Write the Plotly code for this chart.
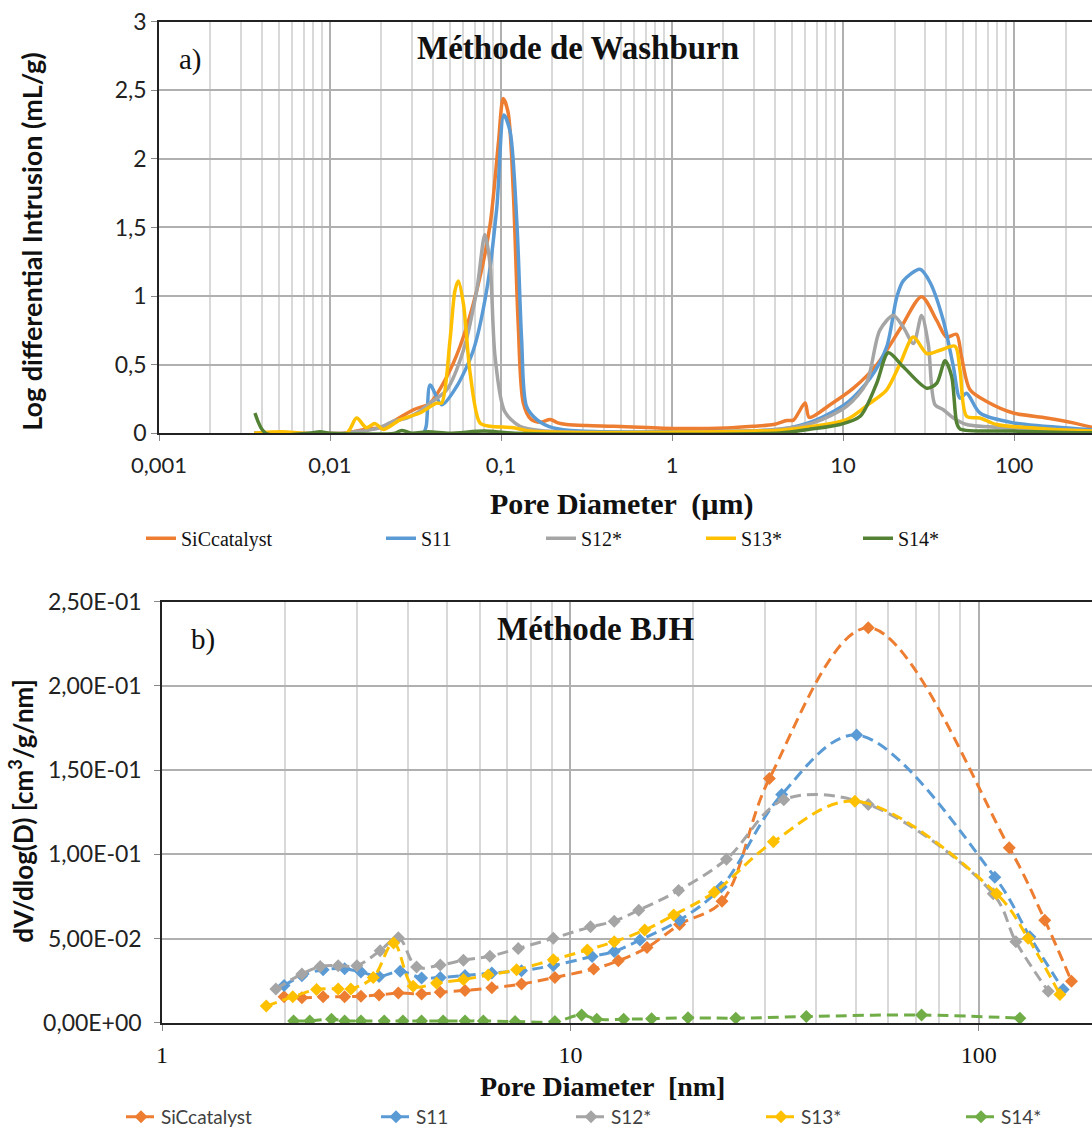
import plotly.graph_objects as go

# ---------------- a) Washburn (mercury intrusion) ----------------
wash_names = ["SiCcatalyst", "S11", "S12*", "S13*", "S14*"]
wash_colors = ["#ED7D31", "#5B9BD5", "#A5A5A5", "#FFC000", "#548235"]

sic_x = [0.0036, 0.012, 0.0137, 0.0165, 0.0196, 0.0215, 0.0307, 0.0385, 0.0481, 0.0575, 0.0721, 0.0863,
         0.0966, 0.103, 0.110, 0.118, 0.126, 0.135, 0.150, 0.170, 0.194, 0.215, 0.242, 0.317, 0.454,
         1.02, 2.09, 2.99, 3.92, 4.69, 5.13, 6.0, 6.35, 8.4, 11.5, 15.7, 21.6, 28.8, 35.3, 40.3, 46.1,
         49.3, 55.3, 69.2, 99, 155, 222, 290]
sic_y = [0, 0, 0.01, 0.03, 0.04, 0.06, 0.17, 0.22, 0.41, 0.63, 1.04, 1.52,
         2.12, 2.44, 2.34, 1.76, 0.80, 0.22, 0.10, 0.08, 0.099, 0.075, 0.063, 0.055, 0.05,
         0.034, 0.038, 0.05, 0.063, 0.092, 0.095, 0.22, 0.115, 0.207, 0.328, 0.497, 0.761, 0.995, 0.822, 0.701, 0.721,
         0.557, 0.316, 0.231, 0.147, 0.111, 0.075, 0.04]

s11_x = [0.0036, 0.035, 0.0365, 0.0385, 0.045, 0.055, 0.0689, 0.0824, 0.0944, 0.104, 0.113, 0.124, 0.132,
         0.141, 0.162, 0.202, 0.29, 1.0, 4.28, 6.7, 10.5, 14.4, 18.0, 20.6, 22.5, 28.2, 32.3, 38.6,
         44.2, 48.3, 52.8, 63.2, 99, 243, 290]
s11_y = [0, 0, 0.05, 0.352, 0.207, 0.34, 0.605, 1.04, 1.64, 2.32, 2.20, 1.52, 0.68,
         0.195, 0.099, 0.038, 0.015, 0.01, 0.027, 0.087, 0.219, 0.40, 0.629, 0.99, 1.11, 1.195, 1.099, 0.822,
         0.484, 0.255, 0.291, 0.147, 0.075, 0.031, 0.025]

s12_x = [0.0036, 0.012, 0.0137, 0.0165, 0.0196, 0.0235, 0.0281, 0.0335, 0.0385, 0.0481, 0.0603, 0.0721,
         0.0805, 0.0863, 0.0923, 0.105, 0.129, 0.185, 1.0, 4.28, 6.7, 10.5, 13.7, 16.4, 19.7, 22.5, 25.8,
         28.8, 31.5, 34.5, 38.6, 44.2, 52.8, 99, 290]
s12_y = [0, 0, 0.01, 0.02, 0.04, 0.087, 0.11, 0.16, 0.219, 0.316, 0.605, 1.04,
         1.448, 1.23, 0.557, 0.159, 0.05, 0.015, 0.005, 0.03, 0.075, 0.195, 0.364, 0.75, 0.858, 0.774, 0.653,
         0.858, 0.653, 0.207, 0.171, 0.111, 0.063, 0.038, 0.015]

s13_x = [0.0036, 0.0053, 0.007, 0.0125, 0.0143, 0.0163, 0.0183, 0.0205, 0.0258, 0.0335, 0.042, 0.045,
         0.0503, 0.0538, 0.0563, 0.0603, 0.066, 0.0753, 0.0863, 0.118, 0.147, 0.3, 4.28, 6.7, 10.5, 14.4,
         18.0, 21.6, 25.8, 30.9, 36.9, 45.2, 48.3, 52.8, 63.2, 79, 155, 290]
s13_y = [0, 0.01, 0, 0, 0.11, 0.04, 0.07, 0.027, 0.099, 0.147, 0.219, 0.22,
         0.677, 1.04, 1.11, 0.942, 0.436, 0.075, 0.05, 0.04, 0.015, 0.005, 0.022, 0.05, 0.099, 0.219,
         0.316, 0.509, 0.701, 0.581, 0.605, 0.634, 0.461, 0.123, 0.111, 0.063, 0.031, 0.015]

s14_x = [0.00364, 0.0042, 0.0075, 0.00875, 0.01, 0.024, 0.0262, 0.03, 0.0375, 0.05, 0.08, 0.12, 4.28,
         6.27, 9.6, 12.6, 15.7, 18.4, 22.5, 30.9, 35.3, 39.5, 43.2, 46.2, 48.3, 99, 290]
s14_y = [0.147, 0, 0, 0.01, 0, 0, 0.02, 0, 0.01, 0, 0.015, 0, 0.002,
         0.027, 0.063, 0.123, 0.36, 0.586, 0.484, 0.328, 0.364, 0.528, 0.412, 0.075, 0.031, 0.015, 0.002]

wash_x = [sic_x, s11_x, s12_x, s13_x, s14_x]
wash_y = [sic_y, s11_y, s12_y, s13_y, s14_y]

wash_xtick_vals = [0.001, 0.01, 0.1, 1, 10, 100]
wash_xtick_text = ["0,001", "0,01", "0,1", "1", "10", "100"]
wash_ytick_vals = [0, 0.5, 1, 1.5, 2, 2.5, 3]
wash_ytick_text = ["0", "0,5", "1", "1,5", "2", "2,5", "3"]

# ---------------- b) BJH ----------------
bjh_names = ["SiCcatalyst", "S11", "S12*", "S13*", "S14*"]
bjh_colors = ["#ED7D31", "#5B9BD5", "#A5A5A5", "#FFC000", "#70AD47"]

bjh_sic_x = [1.99, 2.20, 2.48, 2.80, 3.07, 3.40, 3.79, 4.32, 4.80, 5.52, 6.42, 7.59, 9.16, 11.4, 13.1,
             15.4, 18.5, 23.5, 30.7, 53.6, 118.7, 145, 168.6]
bjh_sic_y = [0.0155, 0.0149, 0.0155, 0.0155, 0.0159, 0.0165, 0.0178, 0.0172, 0.0182, 0.0192, 0.0208, 0.0231,
             0.027, 0.032, 0.0369, 0.0447, 0.0584, 0.0722, 0.145, 0.2345, 0.104, 0.061, 0.0247]

bjh_s11_x = [1.99, 2.20, 2.48, 2.80, 3.07, 3.40, 3.83, 4.32, 4.80, 5.52, 6.42, 7.59, 9.08, 11.3, 12.8,
             14.8, 18.5, 23.4, 32.9, 50.2, 109.4, 133.3, 160.8]
bjh_s11_y = [0.0222, 0.028, 0.0316, 0.0322, 0.0302, 0.0276, 0.0306, 0.0267, 0.027, 0.0282, 0.0296, 0.031,
             0.0341, 0.0394, 0.0424, 0.0492, 0.061, 0.0806, 0.1355, 0.1708, 0.0865, 0.0512, 0.0198]

bjh_s12_x = [1.90, 2.20, 2.44, 2.70, 3.00, 3.42, 3.79, 4.20, 4.80, 5.47, 6.35, 7.45, 9.08, 11.2, 12.8,
             14.7, 18.4, 24.1, 33.3, 53.6, 108.4, 123.2, 147.9]
bjh_s12_y = [0.0202, 0.029, 0.0335, 0.034, 0.034, 0.0429, 0.0506, 0.0332, 0.0343, 0.0372, 0.0396, 0.0442,
             0.0502, 0.057, 0.0604, 0.0669, 0.0786, 0.0972, 0.1325, 0.1296, 0.0766, 0.0482, 0.0188]

bjh_s13_x = [1.80, 2.09, 2.39, 2.70, 2.90, 3.29, 3.69, 4.12, 4.70, 5.47, 6.29, 7.38, 9.08, 11.0, 12.8,
             15.2, 17.9, 22.5, 31.4, 49.7, 110.5, 132, 157.9]
bjh_s13_y = [0.010, 0.0155, 0.0198, 0.0202, 0.0202, 0.027, 0.0475, 0.0218, 0.0237, 0.0257, 0.0284, 0.0316,
             0.0375, 0.0433, 0.0482, 0.0551, 0.064, 0.0776, 0.1075, 0.1316, 0.0766, 0.0502, 0.0169]

bjh_s14_x = [2.10, 2.30, 2.60, 2.80, 3.07, 3.50, 3.89, 4.32, 4.88, 5.52, 6.12, 7.32, 9.16, 10.65, 11.6,
             13.5, 15.8, 19.4, 25.4, 37.8, 72.4, 126]
bjh_s14_y = [0.0012, 0.0012, 0.0022, 0.0012, 0.0012, 0.0012, 0.0012, 0.0012, 0.0012, 0.0012, 0.0012, 0.0008,
             0.0008, 0.0047, 0.0022, 0.0022, 0.0025, 0.003, 0.0028, 0.0038, 0.0047, 0.0028]

bjh_x = [bjh_sic_x, bjh_s11_x, bjh_s12_x, bjh_s13_x, bjh_s14_x]
bjh_y = [bjh_sic_y, bjh_s11_y, bjh_s12_y, bjh_s13_y, bjh_s14_y]

bjh_xtick_vals = [1, 10, 100]
bjh_xtick_text = ["1", "10", "100"]
bjh_ytick_vals = [0, 0.05, 0.10, 0.15, 0.20, 0.25]
bjh_ytick_text = ["0,00E+00", "5,00E-02", "1,00E-01", "1,50E-01", "2,00E-01", "2,50E-01"]

# ---------------- figure ----------------
W, H = 1092, 1136
SANS = "Lato"
SERIF = "Liberation Serif"

# legend text start positions (px) for each entry
top_leg_text = [180, 420, 580, 740, 897]
bot_leg_text = [160, 415, 610, 800, 1000]
LEG_OFF = 39

fig = go.Figure()

for i, (name, col, xs, ys) in enumerate(zip(wash_names, wash_colors, wash_x, wash_y)):
    fig.add_trace(go.Scatter(x=xs, y=ys, name=name, mode="lines",
                             line=dict(color=col, width=3.5, shape="spline", smoothing=0.8),
                             xaxis="x", yaxis="y", legend="legend" if i == 0 else f"legend{i + 1}"))

for i, (name, col, xs, ys) in enumerate(zip(bjh_names, bjh_colors, bjh_x, bjh_y)):
    fig.add_trace(go.Scatter(x=xs, y=ys, name=name, mode="lines+markers",
                             line=dict(color=col, width=3, dash="11px,6px", shape="spline", smoothing=1.0),
                             marker=dict(symbol="diamond", size=10, color=col),
                             xaxis="x2", yaxis="y2", legend=f"legend{i + 6}"))

minor_top = [m * 10 ** e for e in range(-3, 3) for m in range(2, 10)]
minor_bot = [m * 10 ** e for e in range(0, 3) for m in range(2, 10)]

# pixel geometry
top_l, top_t, top_b = 159, 22, 437
bot_l, bot_t, bot_b = 162, 607, 1032

grid_major = "#B0B0B0"
grid_minor = "#D9D9D9"

layout = dict(
    width=W, height=H,
    margin=dict(l=0, r=0, t=0, b=0),
    paper_bgcolor="white", plot_bgcolor="white",
    showlegend=True,
    xaxis=dict(type="log", domain=[top_l / W, 1], range=[-3, 2.456], anchor="y",
               tickmode="array", tickvals=wash_xtick_vals, ticktext=wash_xtick_text,
               showgrid=True, gridcolor=grid_major, gridwidth=1.5,
               minor=dict(tickmode="array", tickvals=minor_top, showgrid=True,
                          gridcolor=grid_minor, gridwidth=1.5, ticks=""),
               showline=True, linecolor="#222222", linewidth=1.5, mirror=True,
               ticks="outside", ticklen=6, tickcolor="#888888", ticklabelstandoff=6,
               tickfont=dict(family=SANS, size=22, color="#222222"), automargin=False, zeroline=False),
    yaxis=dict(domain=[1 - top_b / H, 1 - top_t / H], range=[0, 3], anchor="x",
               tickmode="array", tickvals=wash_ytick_vals, ticktext=wash_ytick_text,
               showgrid=True, gridcolor=grid_major, gridwidth=1.5,
               showline=True, linecolor="#222222", linewidth=1.5,
               ticks="outside", ticklen=6, tickcolor="#888888",
               tickfont=dict(family=SANS, size=23, color="#222222"), automargin=False, zeroline=False),
    xaxis2=dict(type="log", domain=[bot_l / W, 1], range=[0, 2.277], anchor="y2",
                tickmode="array", tickvals=bjh_xtick_vals, ticktext=bjh_xtick_text,
                showgrid=True, gridcolor=grid_major, gridwidth=1.5,
                minor=dict(tickmode="array", tickvals=minor_bot, showgrid=True,
                           gridcolor=grid_minor, gridwidth=1.5, ticks=""),
                showline=True, linecolor="#222222", linewidth=1.5, mirror=True,
                ticks="outside", ticklen=6, tickcolor="#888888", ticklabelstandoff=4,
                tickfont=dict(family=SERIF, size=24, color="#111111"), automargin=False, zeroline=False),
    yaxis2=dict(domain=[1 - bot_b / H, 1 - bot_t / H], range=[0, 0.25], anchor="x2",
                tickmode="array", tickvals=bjh_ytick_vals, ticktext=bjh_ytick_text,
                showgrid=True, gridcolor=grid_major, gridwidth=1.5,
                showline=True, linecolor="#222222", linewidth=1.5,
                ticks="outside", ticklen=6, tickcolor="#888888", ticklabelstandoff=8,
                tickfont=dict(family=SANS, size=23, color="#222222"), automargin=False, zeroline=False),
)

for i, tx in enumerate(top_leg_text):
    key = "legend" if i == 0 else f"legend{i + 1}"
    layout[key] = dict(orientation="h", x=(tx - LEG_OFF) / W, y=1 - 543 / H,
                       xanchor="left", yanchor="middle",
                       font=dict(family=SERIF, size=20, color="#111111"),
                       bgcolor="rgba(0,0,0,0)", itemwidth=30)
for i, tx in enumerate(bot_leg_text):
    key = f"legend{i + 6}"
    layout[key] = dict(orientation="h", x=(tx - LEG_OFF) / W, y=1 - 1127 / H,
                       xanchor="left", yanchor="middle",
                       font=dict(family=SANS, size=19, color="#404040"),
                       bgcolor="rgba(0,0,0,0)", itemwidth=30)

fig.update_layout(**layout)

ann = [
    dict(text="<b>Méthode de Washburn</b>", x=578 / W, y=1 - 48 / H,
         font=dict(family=SERIF, size=33, color="#111111")),
    dict(text="a)", x=190 / W, y=1 - 60 / H, font=dict(family=SERIF, size=29, color="#111111")),
    dict(text="<b>Pore Diameter  (µm)</b>", x=622 / W, y=1 - 508 / H,
         font=dict(family=SERIF, size=30, color="#111111")),
    dict(text="<b>Log differential Intrusion (mL/g)</b>", x=32 / W, y=1 - 244 / H, textangle=-90,
         font=dict(family=SANS, size=27, color="#111111")),
    dict(text="<b>Méthode BJH</b>", x=595 / W, y=1 - 635 / H,
         font=dict(family=SERIF, size=33, color="#111111")),
    dict(text="b)", x=203 / W, y=1 - 645 / H, font=dict(family=SERIF, size=29, color="#111111")),
    dict(text="<b>Pore Diameter  [nm]</b>", x=602 / W, y=1 - 1096 / H,
         font=dict(family=SERIF, size=28, color="#111111")),
    dict(text="<b>dV/dlog(D) [cm<sup>3</sup>/g/nm]</b>", x=22 / W, y=1 - 818 / H, textangle=-90,
         font=dict(family=SANS, size=26, color="#111111")),
]
for a in ann:
    a.update(xref="paper", yref="paper", showarrow=False, xanchor="center", yanchor="middle")
fig.update_layout(annotations=ann)

fig.write_html("out.html", config={"displayModeBar": False},
               post_script="document.body.style.margin='0px';")
